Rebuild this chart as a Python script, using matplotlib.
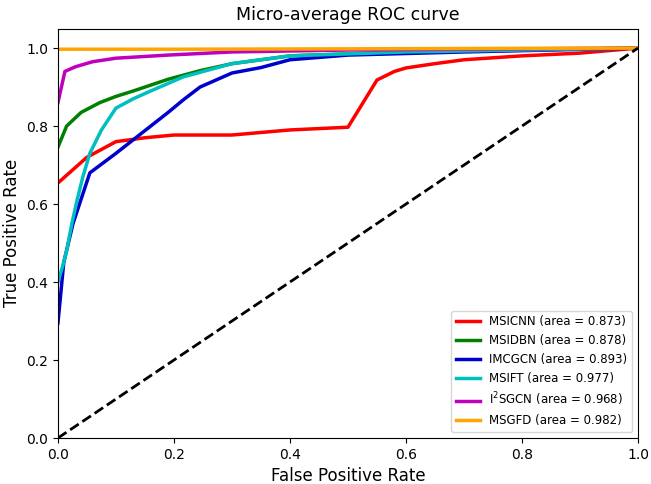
import numpy as np
import matplotlib
matplotlib.use("Agg")
import matplotlib.pyplot as plt

# roc points per model (fpr, tpr)
names = ['MSICNN', 'MSIDBN', 'IMCGCN', 'MSIFT', 'I$^2$SGCN', 'MSGFD']
aucs = [0.873, 0.878, 0.893, 0.977, 0.968, 0.982]
colors = ['red', 'green', 'mediumblue', 'c', 'm', 'orange']

fpr_msicnn = [0.0, 0.05, 0.10, 0.15, 0.20, 0.30, 0.40, 0.50, 0.55, 0.58, 0.60, 0.65, 0.70, 0.80, 0.90, 1.0]
tpr_msicnn = [0.654, 0.72, 0.76, 0.77, 0.777, 0.777, 0.79, 0.797, 0.918, 0.94, 0.949, 0.96, 0.97, 0.98, 0.987, 1.0]

fpr_msidbn = [0.0, 0.015, 0.04, 0.072, 0.10, 0.13, 0.16, 0.19, 0.245, 0.30, 0.40, 0.60, 1.0]
tpr_msidbn = [0.746, 0.80, 0.835, 0.86, 0.876, 0.89, 0.905, 0.92, 0.942, 0.96, 0.98, 0.99, 1.0]

fpr_imcgcn = [0.0, 0.01, 0.026, 0.055, 0.10, 0.13, 0.16, 0.19, 0.216, 0.245, 0.30, 0.35, 0.40, 0.50, 0.70, 1.0]
tpr_imcgcn = [0.295, 0.45, 0.55, 0.68, 0.73, 0.765, 0.80, 0.835, 0.867, 0.900, 0.936, 0.95, 0.97, 0.982, 0.99, 1.0]

fpr_msift = [0.0, 0.008, 0.015, 0.024, 0.033, 0.043, 0.055, 0.075, 0.10, 0.13, 0.16, 0.216, 0.30, 0.40, 0.60, 1.0]
tpr_msift = [0.40, 0.44, 0.48, 0.55, 0.61, 0.67, 0.73, 0.79, 0.846, 0.87, 0.89, 0.926, 0.96, 0.98, 0.99, 1.0]

fpr_i2sgcn = [0.0, 0.012, 0.03, 0.06, 0.10, 0.19, 0.30, 0.50, 1.0]
tpr_i2sgcn = [0.86, 0.94, 0.952, 0.965, 0.974, 0.982, 0.99, 0.995, 1.0]

fpr_msgfd = [0.0, 0.2, 0.5, 1.0]
tpr_msgfd = [0.997, 0.997, 0.998, 1.0]

fprs = [fpr_msicnn, fpr_msidbn, fpr_imcgcn, fpr_msift, fpr_i2sgcn, fpr_msgfd]
tprs = [tpr_msicnn, tpr_msidbn, tpr_imcgcn, tpr_msift, tpr_i2sgcn, tpr_msgfd]

fig = plt.figure(figsize=(6.51, 4.84), dpi=100)
ax = fig.add_axes([0.089, 0.095, 0.891, 0.846])

for f, t, n, a, c in zip(fprs, tprs, names, aucs, colors):
    ax.plot(f, t, color=c, lw=2.5, label='%s (area = %0.3f)' % (n, a))

ax.plot([0, 1], [0, 1], 'k--', lw=2)
ax.set_xlim([0.0, 1.0])
ax.set_ylim([0.0, 1.05])
ax.set_xlabel('False Positive Rate', fontsize=12)
ax.set_ylabel('True Positive Rate', fontsize=12)
ax.set_title('Micro-average ROC curve', fontsize=12.5)
ax.tick_params(labelsize=10)
ax.legend(loc='lower right', fontsize=8.5)

fig.savefig('out.png', dpi=100)
